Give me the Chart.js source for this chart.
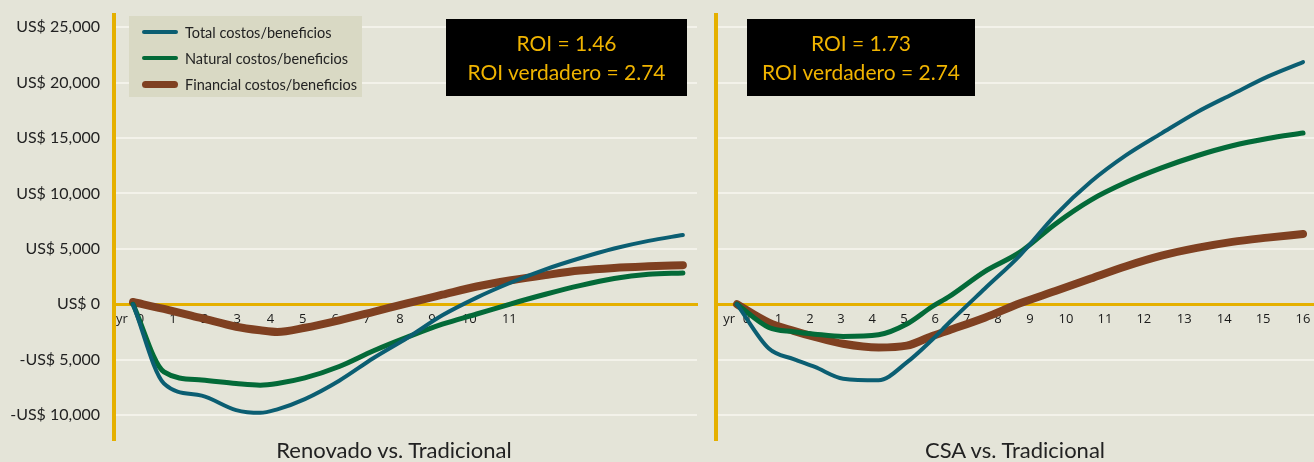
<!DOCTYPE html>
<html>
<head>
<meta charset="utf-8">
<script src="https://cdn.jsdelivr.net/npm/chart.js@4.4.1/dist/chart.umd.min.js"></script>
<style>
  body { margin: 0; background: #e4e4d8; }
  #wrap { position: relative; width: 1314px; height: 462px; overflow: hidden; background: #e4e4d8; font-family: Lato, "Open Sans", sans-serif; color: #222; }
  canvas { position: absolute; top: 0; }
  #leftChart { left: 0; }
  #rightChart { left: 700px; }
  .legend { position: absolute; left: 129px; top: 16px; width: 233px; height: 81px; background: #d9d9c4; }
  .legend .row { position: absolute; left: 13px; height: 26px; display: flex; align-items: center; font-size: 14.5px; white-space: nowrap; }
  .legend .swatch { width: 36px; border-radius: 4px; margin-right: 7px; }
  .roi { position: absolute; top: 19px; height: 77px; background: #000; color: #f0b400; font-size: 21px; line-height: 29px; text-align: center; padding-top: 9px; box-sizing: border-box; }
  .ptitle { position: absolute; top: 435px; font-size: 22px; line-height: 30px; text-align: center; width: 400px; white-space: nowrap; }
</style>
</head>
<body>
<div id="wrap">
  <canvas id="leftChart" width="700" height="462"></canvas>
  <canvas id="rightChart" width="614" height="462"></canvas>
</div>
<script>
const seriesNames = ["Total costos/beneficios", "Natural costos/beneficios", "Financial costos/beneficios"];
const seriesColors = ["#0b5e72", "#036a38", "#7f4021"];
const seriesWidths = [4, 5, 8];

const yTicks = [-10000, -5000, 0, 5000, 10000, 15000, 20000, 25000];

// Renovado vs. Tradicional
const leftYears = [0, 0.9, 2, 3, 3.7, 4.2, 5, 6, 7, 8, 9, 10, 11, 12, 13, 14, 15, 16];
const leftTotal = [0, -7150, -8250, -9550, -9800, -9480, -8560, -6900, -4850, -3000, -1000, 600, 1960, 3150, 4150, 5030, 5720, 6250];
const leftNatural = [0, -6100, -6840, -7150, -7300, -7150, -6650, -5620, -4200, -2950, -1800, -880, 40, 900, 1680, 2320, 2700, 2830];
const leftFinancial = [200, -420, -1260, -2030, -2350, -2500, -2120, -1450, -680, 110, 860, 1600, 2160, 2630, 3040, 3280, 3420, 3520];
const leftTickPos = [-0.32, 0.22, 1.16, 2.09, 3.03, 4.0, 4.94, 5.88, 6.8, 7.77, 8.7, 9.78, 10.95];
const leftTickLabels = ["yr", "0", "1", "2", "3", "4", "5", "6", "7", "8", "9", "10", "11"];

// CSA vs. Tradicional
const rightYears = [0, 0.9, 1.6, 2.2, 3, 4, 4.8, 5.5, 6, 7, 8, 9, 10, 11, 12, 13, 14, 15, 16];
const rightTotal = [0, -4000, -4950, -5660, -6720, -6860, -5250, -3250, -1650, 1400, 4420, 8050, 11050, 13450, 15420, 17330, 18950, 20540, 21850];
const rightNatural = [0, -2100, -2480, -2700, -2900, -2750, -1780, -250, 700, 2950, 4700, 7250, 9400, 11000, 12300, 13400, 14300, 14950, 15450];
const rightFinancial = [0, -1650, -2400, -2950, -3570, -3910, -3740, -2890, -2340, -1215, 80, 1190, 2320, 3430, 4380, 5080, 5630, 6010, 6340];
const rightTickPos = [-0.22, 0.27, 1.17, 2.06, 2.94, 3.82, 4.72, 5.6, 6.49, 7.38, 8.28, 9.3, 10.4, 11.5, 12.64, 13.77, 14.87, 16.0];
const rightTickLabels = ["yr", "0", "1", "2", "3", "4", "5", "6", "7", "8", "9", "10", "11", "12", "13", "14", "15", "16"];

const panelTitles = ["Renovado vs. Tradicional", "CSA vs. Tradicional"];
const roiValues = ["1.46", "1.73"];
const roiTrueValues = ["2.74", "2.74"];

const GOLD = "#e5b000";
const GRID = "#f3f2ea";

function makeDatasets(years, series) {
    return series.map((vals, i) => ({
        label: seriesNames[i],
        data: years.map((x, j) => ({x: x, y: vals[j]})),
        borderColor: seriesColors[i],
        borderWidth: seriesWidths[i],
        borderCapStyle: "round",
        borderJoinStyle: "round",
        pointRadius: 0,
        cubicInterpolationMode: "monotone",
        order: i + 1 // total on top, financial underneath
    }));
}

function makeChart(id, years, series, tickPos, tickLabels, xMin, xMax, showY, yWidth, padRight) {
    const ctx = document.getElementById(id).getContext("2d");
    return new Chart(ctx, {
        type: "line",
        data: {datasets: makeDatasets(years, series)},
        options: {
            responsive: false,
            animation: false,
            layout: {autoPadding: false, padding: {top: 15, bottom: 22, left: 0, right: padRight}},
            plugins: {legend: {display: false}, tooltip: {enabled: false}, title: {display: false}},
            scales: {
                x: {
                    type: "linear",
                    position: {y: 0},
                    min: xMin,
                    max: xMax,
                    grid: {display: false, drawTicks: false},
                    border: {display: true, color: GOLD, width: 3},
                    afterBuildTicks: (scale) => {
                        scale.ticks = tickPos.map((v) => ({value: v}));
                    },
                    afterFit: (scale) => {
                        scale.paddingLeft = 0;
                        scale.paddingRight = 0;
                    },
                    ticks: {
                        autoSkip: false,
                        maxRotation: 0,
                        padding: 7,
                        color: "#1a1a1a",
                        font: {family: "'Open Sans'", size: 13},
                        callback: (value, index) => tickLabels[index]
                    }
                },
                y: {
                    type: "linear",
                    min: -12250,
                    max: 26100,
                    afterBuildTicks: (scale) => {
                        scale.ticks = yTicks.map((v) => ({value: v}));
                    },
                    afterFit: (scale) => {
                        // fixed axis width, and no label overflow padding pushing the plot area in
                        scale.width = yWidth;
                        scale.paddingTop = 0;
                        scale.paddingBottom = 0;
                    },
                    grid: {color: GRID, lineWidth: 2, drawTicks: false},
                    border: {display: true, color: GOLD, width: 4},
                    ticks: {
                        display: showY,
                        padding: 14,
                        color: "#222",
                        font: {family: "Lato", size: 16},
                        callback: (value) => (value < 0 ? "-US$ " : "US$ ") + Math.abs(value).toLocaleString("en-US")
                    }
                }
            }
        }
    });
}

const leftChart = makeChart("leftChart", leftYears, [leftTotal, leftNatural, leftFinancial],
    leftTickPos, leftTickLabels, -0.553, 16.41, true, 114, 3);
const rightChart = makeChart("rightChart", rightYears, [rightTotal, rightNatural, rightFinancial],
    rightTickPos, rightTickLabels, -0.594, 16.31, false, 16, 0);

const wrap = document.getElementById("wrap");

// legend inside the left panel, built from the chart's datasets
const legend = document.createElement("div");
legend.className = "legend";
leftChart.data.datasets.forEach((ds, i) => {
    const row = document.createElement("div");
    row.className = "row";
    row.style.top = (3 + i * 26) + "px";
    const sw = document.createElement("span");
    sw.className = "swatch";
    sw.style.background = ds.borderColor;
    sw.style.height = (i === 2 ? 7 : 4) + "px";
    row.appendChild(sw);
    row.appendChild(document.createTextNode(ds.label));
    legend.appendChild(row);
});
wrap.appendChild(legend);

// ROI boxes
const roiBoxes = [{left: 446, width: 241}, {left: 747, width: 228}];
roiBoxes.forEach((b, i) => {
    const d = document.createElement("div");
    d.className = "roi";
    d.style.left = b.left + "px";
    d.style.width = b.width + "px";
    d.innerHTML = "ROI = " + roiValues[i] + "<br>ROI verdadero = " + roiTrueValues[i];
    wrap.appendChild(d);
});

// panel titles
const titleCenters = [394, 1015];
panelTitles.forEach((t, i) => {
    const d = document.createElement("div");
    d.className = "ptitle";
    d.style.left = (titleCenters[i] - 200) + "px";
    d.textContent = t;
    wrap.appendChild(d);
});
</script>
</body>
</html>
